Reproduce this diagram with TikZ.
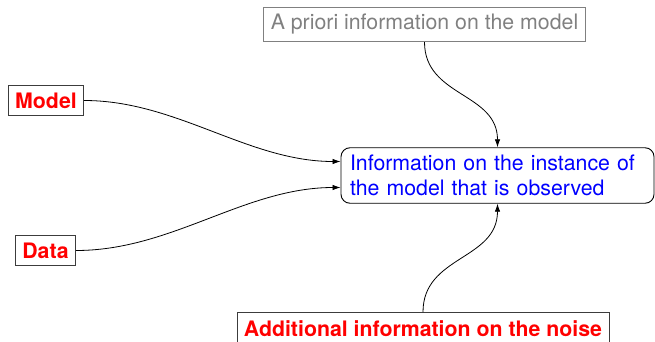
\documentclass[tikz,border=0pt]{standalone}
\usepackage{fontspec}
\setmainfont{TeX Gyre Heros}
\usetikzlibrary{arrows.meta,calc}
\definecolor{boxline}{RGB}{60,60,60}
\definecolor{softgray}{RGB}{128,128,128}
\begin{document}
\begin{tikzpicture}[x=1pt,y=1pt,
  font=\fontsize{21.3}{25}\selectfont,
  box/.style={draw=boxline,line width=0.9pt,inner xsep=7pt,inner ysep=7pt},
  source/.style={box,text=red,font=\fontsize{21.3}{25}\selectfont\bfseries},
  link/.style={line width=0.8pt,-{Latex[length=8pt,width=5.5pt]}}]
  \useasboundingbox (0,0) rectangle (655,341);
  % nodes
  \node[box,draw=softgray,text=softgray] (apriori) at (424.5,316.5) {A priori information on the model};
  \node[source] (model) at (46,240.5) {Model};
  \node[source] (data) at (45.5,90.5) {Data};
  \node[box,draw=black,rounded corners=9pt,text=blue,align=left,text width=295pt,inner xsep=9pt,inner ysep=7.3pt]
    (info) at (497.5,165.5) {Information on the instance of\\the model that is observed};
  \node[source,inner ysep=8pt] (noise) at (423,12.5) {Additional information on the noise};
  % entry points on the left side of the central box
  \coordinate (inmodel) at ([yshift=14pt]info.west);
  \coordinate (indata) at ([yshift=-12pt]info.west);
  % connectors
  \draw[link] (model.east) to[out=0,in=180,looseness=0.9] (inmodel);
  \draw[link] (data.east) to[out=0,in=180,looseness=0.9] (indata);
  \draw[link] (apriori.south) to[out=-90,in=90,looseness=1.1] (info.north);
  \draw[link] (noise.north) to[out=90,in=-90,looseness=1.1] (info.south);
\end{tikzpicture}
\end{document}
